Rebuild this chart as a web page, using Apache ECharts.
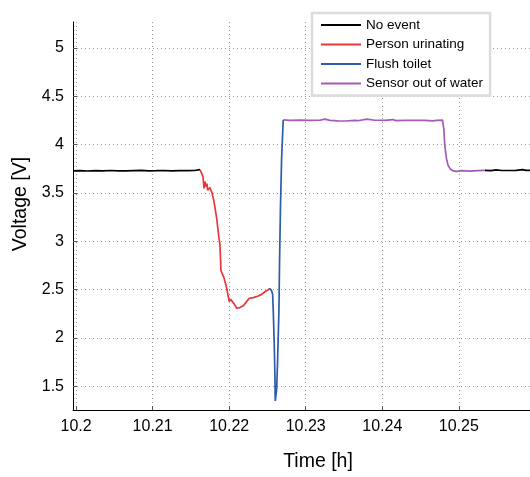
<!DOCTYPE html>
<html>
<head>
<meta charset="utf-8">
<script src="https://cdn.jsdelivr.net/npm/echarts@6/dist/echarts.min.js"></script>
<style>html,body{margin:0;padding:0;background:#fff}#c{width:530px;height:477px}</style>
</head>
<body>
<div id="c"></div>
<script>
const seriesNames = ['No event', 'Person urinating', 'Flush toilet', 'Sensor out of water'];

const noEventA_t = [10.1996, 10.2005, 10.2015, 10.2025, 10.2035, 10.2045, 10.2055, 10.2065, 10.2075, 10.2085, 10.2095, 10.2105, 10.2115, 10.2125, 10.2135, 10.2145, 10.2155, 10.2162];
const noEventA_v = [3.728, 3.730, 3.726, 3.729, 3.727, 3.731, 3.728, 3.727, 3.730, 3.733, 3.728, 3.729, 3.731, 3.727, 3.730, 3.729, 3.731, 3.740];

const urinating_t = [10.2162, 10.21645, 10.21658, 10.21671, 10.21684, 10.21697, 10.2171, 10.21719, 10.21736, 10.21749, 10.21762, 10.21775, 10.21802, 10.21837, 10.21867, 10.2188, 10.21893, 10.21932, 10.21967, 10.22001, 10.2202, 10.2204, 10.22063, 10.22098, 10.22141, 10.22184, 10.22228, 10.22262, 10.22315, 10.2238, 10.22424, 10.22467, 10.2251, 10.22533];
const urinating_v = [3.740, 3.720, 3.668, 3.545, 3.617, 3.566, 3.596, 3.528, 3.545, 3.555, 3.525, 3.504, 3.412, 3.237, 3.032, 2.963, 2.696, 2.621, 2.518, 2.375, 2.398, 2.388, 2.354, 2.306, 2.313, 2.331, 2.375, 2.409, 2.416, 2.433, 2.450, 2.477, 2.498, 2.511];

const flush_t = [10.22533, 10.22555, 10.22568, 10.22576, 10.22589, 10.22598, 10.22602, 10.22611, 10.2262, 10.22633, 10.2265, 10.22659, 10.2267, 10.22685, 10.22706];
const flush_v = [2.511, 2.485, 2.450, 2.282, 1.936, 1.594, 1.348, 1.348, 1.461, 1.769, 2.282, 2.826, 3.340, 3.853, 4.254];

const sensor_t = [10.22706, 10.22794, 10.22924, 10.23055, 10.23185, 10.2325, 10.23316, 10.2342, 10.23512, 10.23642, 10.23681, 10.23799, 10.23903, 10.24034, 10.24138, 10.24178, 10.24204, 10.24295, 10.24426, 10.24556, 10.24661, 10.24713, 10.24787, 10.24804, 10.24817, 10.24839, 10.2486, 10.24892, 10.24926, 10.2497, 10.25039, 10.25144, 10.25248, 10.25339];
const sensor_v = [4.254, 4.250, 4.252, 4.250, 4.251, 4.262, 4.250, 4.245, 4.243, 4.250, 4.246, 4.262, 4.251, 4.250, 4.258, 4.247, 4.260, 4.250, 4.251, 4.250, 4.245, 4.250, 4.252, 4.161, 3.990, 3.853, 3.784, 3.743, 3.727, 3.723, 3.730, 3.725, 3.730, 3.733];

const noEventB_t = [10.25339, 10.2542, 10.2549, 10.2556, 10.2565, 10.2575, 10.2583, 10.2588, 10.2593];
const noEventB_v = [3.733, 3.730, 3.737, 3.731, 3.731, 3.733, 3.740, 3.732, 3.732];

const xMin = 10.1996, xMax = 10.2593;
const yMin = 1.254, yMax = 5.267;

const colors = {'No event': '#000000', 'Person urinating': '#e8383a', 'Flush toilet': '#2c5cab', 'Sensor out of water': '#a35bb3'};

function zip(t, v) { return t.map((x, i) => [x, v[i]]); }
function mk(name, t, v) {
  return {
    name: name, type: 'line', data: zip(t, v), symbol: 'none', showSymbol: false,
    lineStyle: {color: colors[name], width: 1.7}, itemStyle: {color: colors[name]},
    animation: false, clip: true
  };
}

const FONT = 'Liberation Sans, Arial, sans-serif';
const chart = echarts.init(document.getElementById('c'), null, {renderer: 'canvas'});
chart.setOption({
  backgroundColor: '#ffffff',
  animation: false,
  grid: {left: 73, right: 0, top: 22, bottom: 64, containLabel: false},
  legend: {
    data: seriesNames, orient: 'vertical', left: 312, top: 13,
    icon: 'rect', itemWidth: 40, itemHeight: 2, itemGap: 5.5,
    padding: [5, 7, 5, 9],
    backgroundColor: '#ffffff', borderColor: '#dcdcdc', borderWidth: 2.5,
    textStyle: {fontFamily: FONT, fontSize: 13.5, color: '#000', padding: [0, 0, 0, 0]},
    selectedMode: false
  },
  xAxis: {
    type: 'value', min: xMin, max: xMax, splitNumber: 5,
    name: 'Time [h]', nameLocation: 'middle', nameGap: 42,
    nameTextStyle: {fontFamily: FONT, fontSize: 19.5, color: '#000', padding: [0, 0, 0, 33]},
    axisLine: {show: true, onZero: false, lineStyle: {color: '#000', width: 1}},
    axisTick: {show: true, inside: true, length: 4, lineStyle: {color: '#555'}},
    axisLabel: {fontFamily: FONT, fontSize: 16, color: '#000', margin: 9, showMinLabel: false, showMaxLabel: false},
    splitLine: {show: true, showMinLine: false, showMaxLine: false, lineStyle: {color: '#999999', type: [1, 3], width: 1}}
  },
  yAxis: {
    type: 'value', min: yMin, max: yMax, splitNumber: 8,
    name: 'Voltage [V]', nameLocation: 'middle', nameGap: 42, nameRotate: 90,
    nameTextStyle: {fontFamily: FONT, fontSize: 19.5, color: '#000', padding: [0, 0, 0, 24]},
    axisLine: {show: true, onZero: false, lineStyle: {color: '#000', width: 1}},
    axisTick: {show: true, inside: true, length: 4, lineStyle: {color: '#555'}},
    axisLabel: {fontFamily: FONT, fontSize: 16, color: '#000', margin: 9, showMinLabel: false, showMaxLabel: false},
    splitLine: {show: true, showMinLine: false, showMaxLine: false, lineStyle: {color: '#999999', type: [1, 3], width: 1}}
  },
  series: [
    mk('No event', noEventA_t, noEventA_v),
    mk('No event', noEventB_t, noEventB_v),
    mk('Person urinating', urinating_t, urinating_v),
    mk('Flush toilet', flush_t, flush_v),
    mk('Sensor out of water', sensor_t, sensor_v)
  ]
});
</script>
</body>
</html>
